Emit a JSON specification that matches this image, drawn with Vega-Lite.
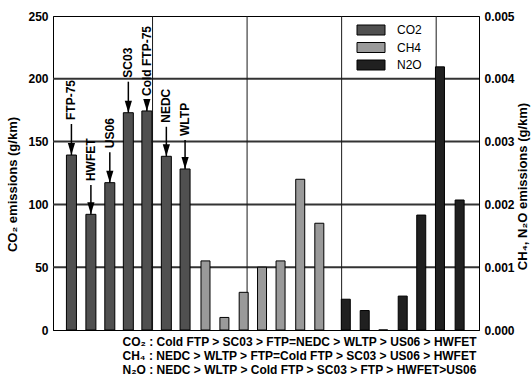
{
  "$schema": "https://vega.github.io/schema/vega-lite/v6.json",
  "width": 426,
  "height": 314,
  "autosize": {"type": "none"},
  "padding": {"left": 53, "top": 16, "right": 52, "bottom": 50},
  "config": {
    "font": "Liberation Sans",
    "view": {"stroke": "black", "strokeWidth": 1},
    "axis": {
      "labelFont": "Liberation Sans",
      "labelFontWeight": "bold",
      "labelFontSize": 12,
      "labelColor": "black",
      "titleFont": "Liberation Sans",
      "titleFontWeight": "bold",
      "titleFontSize": 13,
      "titleColor": "black",
      "domainColor": "black",
      "domainWidth": 1,
      "tickColor": "black",
      "tickSize": 0,
      "grid": false
    },
    "legend": {"labelFont": "Liberation Sans", "labelFontSize": 12, "labelColor": "black"}
  },
  "datasets": {
    "co2": [
      {"cycle": "FTP-75", "gas": "CO2", "x": 0.71, "value": 139.3, "arrow_top": 164, "label": "FTP-75"},
      {"cycle": "HWFET", "gas": "CO2", "x": 1.74, "value": 92.1, "arrow_top": 115.4, "label": "HWFET"},
      {"cycle": "US06", "gas": "CO2", "x": 2.74, "value": 117.3, "arrow_top": 141.6, "label": "US06"},
      {"cycle": "SC03", "gas": "CO2", "x": 3.72, "value": 173, "arrow_top": 197.7, "label": "SC03"},
      {"cycle": "Cold FTP-75", "gas": "CO2", "x": 4.7, "value": 174.4, "arrow_top": 183.1, "label": "Cold FTP-75"},
      {"cycle": "NEDC", "gas": "CO2", "x": 5.73, "value": 138.3, "arrow_top": 161.8, "label": "NEDC"},
      {"cycle": "WLTP", "gas": "CO2", "x": 6.72, "value": 128.2, "arrow_top": 151.3, "label": "WLTP"}
    ],
    "ghg": [
      {"cycle": "FTP-75", "gas": "CH4", "x": 7.8, "value": 0.0011},
      {"cycle": "HWFET", "gas": "CH4", "x": 8.8, "value": 0.0002},
      {"cycle": "US06", "gas": "CH4", "x": 9.82, "value": 0.0006},
      {"cycle": "SC03", "gas": "CH4", "x": 10.79, "value": 0.001},
      {"cycle": "Cold FTP-75", "gas": "CH4", "x": 11.77, "value": 0.0011},
      {"cycle": "NEDC", "gas": "CH4", "x": 12.81, "value": 0.0024},
      {"cycle": "WLTP", "gas": "CH4", "x": 13.82, "value": 0.0017},
      {"cycle": "FTP-75", "gas": "N2O", "x": 15.22, "value": 0.00049},
      {"cycle": "HWFET", "gas": "N2O", "x": 16.22, "value": 0.00031},
      {"cycle": "US06", "gas": "N2O", "x": 17.2, "value": 0},
      {"cycle": "SC03", "gas": "N2O", "x": 18.23, "value": 0.00054},
      {"cycle": "Cold FTP-75", "gas": "N2O", "x": 19.21, "value": 0.00183},
      {"cycle": "NEDC", "gas": "N2O", "x": 20.2, "value": 0.00419},
      {"cycle": "WLTP", "gas": "N2O", "x": 21.24, "value": 0.00207}
    ],
    "xgrid": [{"gx": 5}, {"gx": 10}, {"gx": 15}, {"gx": 20}],
    "ygrid": [{"gy": 50}, {"gy": 100}, {"gy": 150}, {"gy": 200}]
  },
  "layer": [
    {
      "layer": [
        {
          "data": {"name": "ygrid"},
          "mark": {"type": "rule", "color": "#333333", "strokeWidth": 2},
          "encoding": {
            "y": {"field": "gy", "type": "quantitative", "scale": {"domain": [0, 250], "nice": false}}
          }
        },
        {
          "data": {"name": "xgrid"},
          "mark": {"type": "rule", "color": "#1a1a1a", "strokeWidth": 1},
          "encoding": {
            "x": {"field": "gx", "type": "quantitative", "scale": {"domain": [0, 22], "nice": false, "zero": false}}
          }
        },
        {
          "data": {"name": "co2"},
          "mark": {"type": "bar", "width": 10, "stroke": "black", "strokeWidth": 1},
          "encoding": {
            "x": {
              "field": "x", "type": "quantitative",
              "scale": {"domain": [0, 22], "nice": false, "zero": false},
              "axis": {
                "values": [5, 10, 15, 20],
                "labels": false,
                "title": [
                  "CO₂ : Cold FTP > SC03 > FTP=NEDC > WLTP > US06 > HWFET",
                  "CH₄ : NEDC > WLTP > FTP=Cold FTP > SC03 > US06 > HWFET",
                  "N₂O : NEDC > WLTP > Cold FTP > SC03 > FTP > HWFET>US06"
                ],
                "titleFontSize": 12,
                "titleAnchor": "start",
                "titleAlign": "left",
                "titleBaseline": "top",
                "titleX": 69,
                "titleY": 6,
                "titleLineHeight": 14
              }
            },
            "y": {
              "field": "value", "type": "quantitative",
              "scale": {"domain": [0, 250], "nice": false},
              "axis": {
                "values": [0, 50, 100, 150, 200, 250],
                "labelPadding": 5,
                "title": "CO₂ emissions (g/km)",
                "titleAngle": 270,
                "titleAlign": "center",
                "titleBaseline": "middle",
                "titleX": -41,
                "titleY": 168
              }
            },
            "color": {
              "field": "gas", "type": "nominal",
              "scale": {"domain": ["CO2", "CH4", "N2O"], "range": ["#505050", "#9a9a9a", "#202020"]},
              "legend": {
                "title": null,
                "orient": "none",
                "legendX": 303,
                "legendY": 8,
                "padding": 0,
                "symbolType": "M-1,-1H4.6V1H-1Z",
                "symbolSize": 100,
                "symbolStrokeColor": "black",
                "symbolStrokeWidth": 1,
                "symbolOpacity": 1,
                "labelOffset": 29,
                "rowPadding": 3.5
              }
            }
          }
        },
        {
          "data": {"name": "co2"},
          "mark": {"type": "rule", "color": "black", "strokeWidth": 1.5},
          "encoding": {
            "x": {"field": "x", "type": "quantitative", "scale": {"domain": [0, 22], "nice": false, "zero": false}},
            "y": {"field": "arrow_top", "type": "quantitative", "scale": {"domain": [0, 250], "nice": false}},
            "y2": {"field": "value"}
          }
        },
        {
          "data": {"name": "co2"},
          "mark": {"type": "point", "shape": "M-0.6,-1L0.6,-1L0,1Z", "size": 144, "filled": true, "color": "black", "opacity": 1, "yOffset": -6},
          "encoding": {
            "x": {"field": "x", "type": "quantitative", "scale": {"domain": [0, 22], "nice": false, "zero": false}},
            "y": {"field": "value", "type": "quantitative", "scale": {"domain": [0, 250], "nice": false}}
          }
        },
        {
          "data": {"name": "co2"},
          "mark": {"type": "text", "angle": 270, "align": "left", "baseline": "middle", "font": "Liberation Sans", "fontWeight": "bold", "fontSize": 12, "color": "black", "yOffset": -4},
          "encoding": {
            "x": {"field": "x", "type": "quantitative", "scale": {"domain": [0, 22], "nice": false, "zero": false}},
            "y": {"field": "arrow_top", "type": "quantitative", "scale": {"domain": [0, 250], "nice": false}},
            "text": {"field": "label"}
          }
        }
      ]
    },
    {
      "data": {"name": "ghg"},
      "mark": {"type": "bar", "width": 9, "stroke": "black", "strokeWidth": 1},
      "encoding": {
        "x": {"field": "x", "type": "quantitative", "scale": {"domain": [0, 22], "nice": false, "zero": false}},
        "y": {
          "field": "value", "type": "quantitative",
          "scale": {"domain": [0, 0.005], "nice": false},
          "axis": {
            "orient": "right",
            "values": [0, 0.001, 0.002, 0.003, 0.004, 0.005],
            "format": ".3f",
            "labelPadding": 5,
            "title": "CH₄, N₂O emissions (g/km)",
            "titleAngle": 270,
            "titleAlign": "center",
            "titleBaseline": "middle",
            "titleX": 43,
            "titleY": 170
          }
        },
        "color": {"field": "gas", "type": "nominal"}
      }
    }
  ],
  "resolve": {"scale": {"y": "independent"}}
}
